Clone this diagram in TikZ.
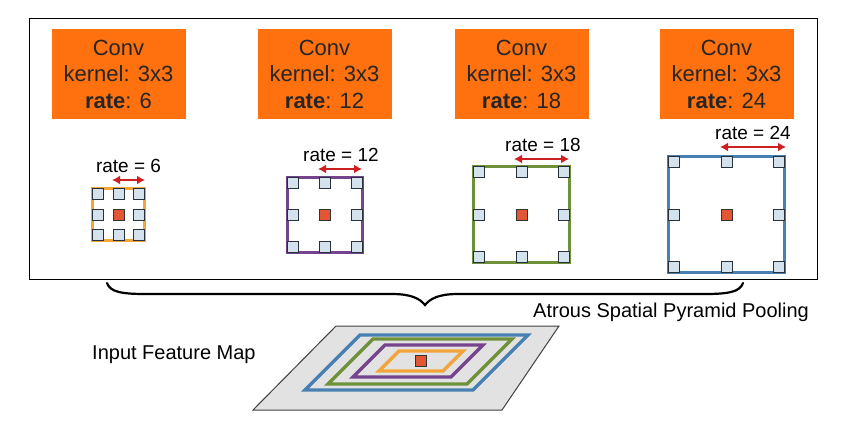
\documentclass[tikz,border=0pt]{standalone}
\usepackage{fontspec}
\setmainfont{Liberation Sans}
\usetikzlibrary{arrows.meta}
\definecolor{convorange}{RGB}{255,112,14}
\definecolor{korange}{RGB}{243,165,60}
\definecolor{kpurple}{RGB}{118,68,140}
\definecolor{kgreen}{RGB}{110,145,58}
\definecolor{kblue}{RGB}{72,128,178}
\definecolor{cellfill}{RGB}{212,226,238}
\definecolor{cellline}{RGB}{40,48,58}
\definecolor{centerred}{RGB}{226,86,52}
\definecolor{arrowred}{RGB}{205,32,32}
\definecolor{mapgray}{RGB}{226,226,226}
\newcommand\kernelgrid[5]{%
  % #1 name, #2 cx, #3 cy, #4 half size, #5 colour
  \node[draw=#5, line width=3, minimum size=2*#4, inner sep=0] (#1) at (#2,#3) {};
  \foreach \i in {-1,0,1}{
    \foreach \j in {-1,0,1}{
      \ifnum\i=0 \ifnum\j=0 \else
        \node[cell] (#1-\i\j) at ({#2+\i*(#4-5.5)},{#3+\j*(#4-5.5)}) {};
      \fi\else
        \node[cell] (#1-\i\j) at ({#2+\i*(#4-5.5)},{#3+\j*(#4-5.5)}) {};
      \fi
    }
  }
  \node[centercell] (#1-c) at (#2,#3) {};
}
\begin{document}
\begin{tikzpicture}[x=1pt,y=-1pt,
  conv/.style={fill=convorange, text=black!85, font=\fontsize{22}{26.5}\selectfont,
    align=center, minimum width=134, minimum height=90, inner sep=0},
  cell/.style={draw=cellline, fill=cellfill, line width=1, minimum size=11, inner sep=0},
  centercell/.style={draw=black!80, fill=centerred, line width=1, minimum size=11, inner sep=0},
  ratearrow/.style={draw=arrowred, line width=2.6, {Latex[length=8,width=9]}-{Latex[length=8,width=9]}},
  ratelabel/.style={font=\fontsize{19}{19}\selectfont, inner sep=0},
  caption/.style={font=\fontsize{20}{20}\selectfont, inner sep=0}]
\useasboundingbox (0,0) rectangle (853,443);
\fill[white] (0,0) rectangle (853,443);

% outer frame
\node[draw=black, line width=1, minimum width=788, minimum height=261, inner sep=0] (frame) at (423,149.5) {};

% conv boxes
\node[conv] (c1) at (118.5,74) {Conv\\kernel: 3x3\\\textbf{rate}: 6};
\node[conv] (c2) at (324.5,74) {Conv\\kernel: 3x3\\\textbf{rate}: 12};
\node[conv] (c3) at (521.5,74) {Conv\\kernel: 3x3\\\textbf{rate}: 18};
\node[conv] (c4) at (726.5,74) {Conv\\kernel: 3x3\\\textbf{rate}: 24};

% kernels
\kernelgrid{k1}{118.5}{215}{26}{korange}
\kernelgrid{k2}{324.5}{215}{37.5}{kpurple}
\kernelgrid{k3}{521.5}{215}{48}{kgreen}
\kernelgrid{k4}{726.5}{215}{58}{kblue}

% rate arrows
\coordinate (a1s) at (112,180); \coordinate (a1e) at (145,180);
\coordinate (a2s) at (318,169); \coordinate (a2e) at (362,169);
\coordinate (a3s) at (514,159); \coordinate (a3e) at (569,159);
\coordinate (a4s) at (720,147); \coordinate (a4e) at (786,147);
\draw[ratearrow] (a1s) -- (a1e);
\draw[ratearrow] (a2s) -- (a2e);
\draw[ratearrow] (a3s) -- (a3e);
\draw[ratearrow] (a4s) -- (a4e);
\node[ratelabel] (r1) at (128.5,166) {rate = 6};
\node[ratelabel] (r2) at (341,155) {rate = 12};
\node[ratelabel] (r3) at (543,145) {rate = 18};
\node[ratelabel] (r4) at (753,133) {rate = 24};

% brace
\draw[line width=2.2, line cap=round] (107,283) .. controls (110,292) and (122,294) .. (145,294)
  -- (392,294) .. controls (412,294) and (420,299) .. (425,305)
  .. controls (430,299) and (438,294) .. (458,294)
  -- (705,294) .. controls (728,294) and (740,292) .. (743,283);

\node[caption, anchor=west] (aspp) at (533,312) {Atrous Spatial Pyramid Pooling};
\node[caption, anchor=west] (ifm) at (92,355) {Input Feature Map};

% input feature map
\filldraw[fill=mapgray, draw=black!75, line width=1] (336,326) -- (559,326) -- (502,410) -- (253,410) -- cycle;
\draw[kblue, line width=3.2] (360,335) -- (528,335) -- (473,390) -- (305,390) -- cycle;
\draw[kgreen, line width=3.2] (373,339) -- (512,339) -- (467,384) -- (328,384) -- cycle;
\draw[kpurple, line width=3.2] (385,345) -- (483,345) -- (451,377) -- (353,377) -- cycle;
\draw[korange, line width=3.2] (399,351) -- (463,351) -- (443,371) -- (379,371) -- cycle;
\node[centercell] (mapc) at (420.5,361) {};
\end{tikzpicture}
\end{document}
